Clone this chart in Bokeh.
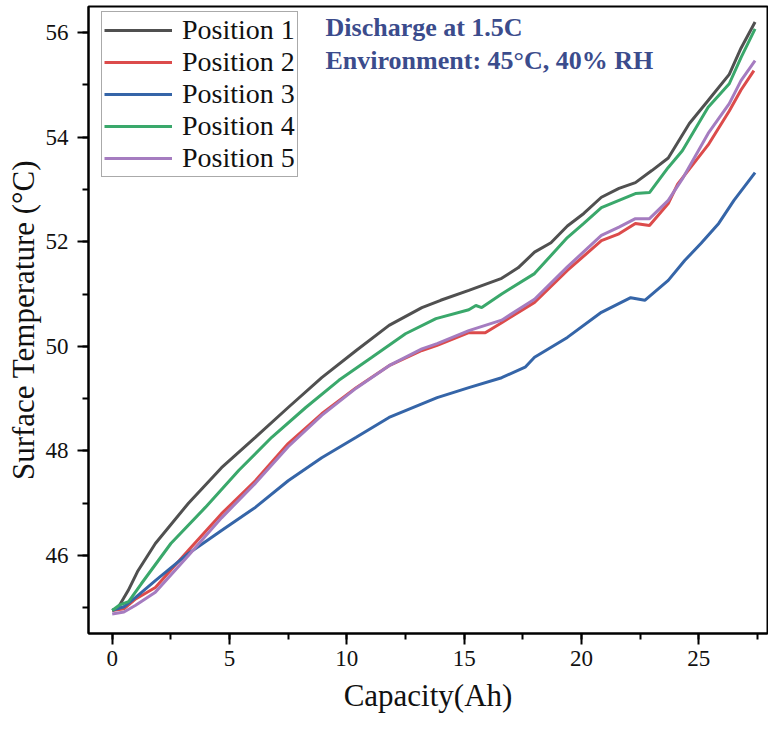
from bokeh.plotting import figure
from bokeh.models import Legend, LegendItem, Label, SingleIntervalTicker, Range1d
from bokeh.embed import file_html
from bokeh.resources import INLINE

# ---- data ----
x1 = [0, 0.25, 0.68, 1.1, 1.84, 3.25, 4.66, 6.1, 7.5, 8.93, 10.4, 11.8, 13.2, 14.0, 15.2, 16.6,
      17.3, 18.0, 18.7, 19.4, 20.1, 20.85, 21.6, 22.3, 23.0, 23.7, 24.6, 25.4, 26.3, 26.8, 27.4]
y1 = [44.95, 45.0, 45.33, 45.71, 46.23, 47.0, 47.68, 48.26, 48.83, 49.4, 49.92, 50.4, 50.74, 50.88, 51.07, 51.3,
      51.5, 51.8, 51.98, 52.3, 52.54, 52.85, 53.02, 53.13, 53.36, 53.6, 54.26, 54.7, 55.2, 55.7, 56.2]

x2 = [0, 0.5, 1.0, 1.84, 3.25, 4.66, 6.1, 7.5, 8.93, 10.4, 11.8, 13.2, 13.85, 15.2, 15.9, 16.6,
      18.0, 19.4, 20.85, 21.6, 22.3, 22.9, 23.7, 24.1, 25.4, 26.3, 26.8, 27.35]
y2 = [44.95, 44.98, 45.17, 45.39, 46.1, 46.8, 47.43, 48.14, 48.71, 49.21, 49.63, 49.92, 50.02, 50.26, 50.26, 50.45,
      50.84, 51.45, 52.02, 52.15, 52.35, 52.31, 52.73, 53.1, 53.85, 54.5, 54.9, 55.27]

x3 = [0, 0.5, 1.0, 1.84, 3.25, 4.66, 6.1, 7.5, 8.93, 10.4, 11.8, 13.2, 13.85, 15.2, 16.6, 17.6,
      18.0, 19.4, 20.85, 22.1, 22.7, 23.7, 24.4, 25.1, 25.85, 26.5, 27.4]
y3 = [44.95, 45.02, 45.2, 45.52, 46.04, 46.48, 46.92, 47.43, 47.87, 48.26, 48.64, 48.9, 49.02, 49.21, 49.4, 49.6,
      49.79, 50.17, 50.65, 50.93, 50.88, 51.26, 51.64, 51.97, 52.35, 52.79, 53.32]

x4 = [0, 0.3, 0.7, 1.24, 2.5, 3.97, 5.4, 6.8, 8.25, 9.66, 11.07, 12.5, 13.8, 15.2, 15.5, 15.75, 16.6,
      18.0, 19.4, 20.1, 20.85, 22.3, 22.9, 23.7, 24.3, 25.4, 26.3, 26.8, 27.4]
y4 = [44.95, 45.05, 45.12, 45.46, 46.23, 46.92, 47.63, 48.26, 48.83, 49.35, 49.79, 50.24, 50.53, 50.7, 50.78, 50.74, 51.0,
      51.39, 52.08, 52.35, 52.65, 52.92, 52.94, 53.42, 53.74, 54.57, 55.02, 55.52, 56.07]

x5 = [0, 0.5, 1.0, 1.84, 3.25, 4.66, 6.1, 7.5, 8.93, 10.4, 11.8, 13.2, 13.85, 15.2, 16.6,
      18.0, 19.4, 20.85, 21.6, 22.3, 22.9, 23.7, 24.3, 25.4, 26.3, 26.8, 27.4]
y5 = [44.88, 44.92, 45.05, 45.3, 46.0, 46.72, 47.38, 48.08, 48.68, 49.2, 49.63, 49.95, 50.05, 50.3, 50.5,
      50.9, 51.52, 52.12, 52.28, 52.44, 52.44, 52.79, 53.2, 54.07, 54.64, 55.08, 55.46]

names = ["Position 1", "Position 2", "Position 3", "Position 4", "Position 5"]
colors = ["#505050", "#dc4b4b", "#3565a8", "#3aa86b", "#a57cc0"]
series = [(x1, y1), (x2, y2), (x3, y3), (x4, y4), (x5, y5)]

note1 = "Discharge at 1.5C"
note2 = "Environment: 45°C, 40% RH"

FONT = "Liberation Serif"

p = figure(width=768, height=716, output_backend="svg", toolbar_location=None,
           x_range=Range1d(-1.010, 27.93), y_range=Range1d(44.509, 56.497),
           min_border_left=88, min_border_right=1, min_border_top=6, min_border_bottom=83,
           background_fill_color="white", border_fill_color="white")

p.xgrid.visible = False
p.ygrid.visible = False
p.outline_line_color = "black"
p.outline_line_width = 2
p.outline_line_alpha = 1

renderers = []
for (xs, ys), c in zip(series, colors):
    r = p.line(xs, ys, line_color=c, line_width=3.0)
    renderers.append(r)

p.xaxis.ticker = SingleIntervalTicker(interval=5, num_minor_ticks=2)
p.yaxis.ticker = SingleIntervalTicker(interval=2, num_minor_ticks=2)

for ax in (p.xaxis[0], p.yaxis[0]):
    ax.axis_line_width = 2
    ax.axis_line_color = "black"
    ax.major_tick_line_width = 2
    ax.minor_tick_line_width = 2
    ax.major_tick_out = 11
    ax.major_tick_in = 0
    ax.minor_tick_out = 6
    ax.minor_tick_in = 0
    ax.major_label_text_font = FONT
    ax.major_label_text_font_size = "23px"
    ax.major_label_text_color = "#111111"
    ax.axis_label_text_font = FONT
    ax.axis_label_text_font_style = "normal"
    ax.axis_label_text_font_size = "31px"
    ax.axis_label_text_color = "#111111"

p.xaxis.axis_label = "Capacity(Ah)"
p.yaxis.axis_label = "Surface Temperature (°C)"
p.xaxis.major_label_standoff = 6
p.xaxis.axis_label_standoff = 9
p.yaxis.major_label_standoff = 9
p.yaxis.axis_label_standoff = 2

items = [LegendItem(label=n, renderers=[r]) for n, r in zip(names, renderers)]
legend = Legend(items=items, location=(13, 456), margin=0,
                label_text_font=FONT, label_text_font_size="28px", label_text_color="#111111",
                glyph_width=68, glyph_height=30, label_height=30, label_standoff=10,
                spacing=0, padding=2,
                border_line_color="#555555", border_line_width=1,
                background_fill_color="white", background_fill_alpha=1)
p.add_layout(legend, "center")

for txt, yv in ((note1, 56.095), (note2, 55.459)):
    p.add_layout(Label(x=9.092, y=yv, text=txt, text_font=FONT, text_font_style="bold",
                       text_font_size="26px", text_color="#3b4c8c", text_baseline="alphabetic",
                       text_align="left"))

open("out.html", "w").write(file_html(p, INLINE))
